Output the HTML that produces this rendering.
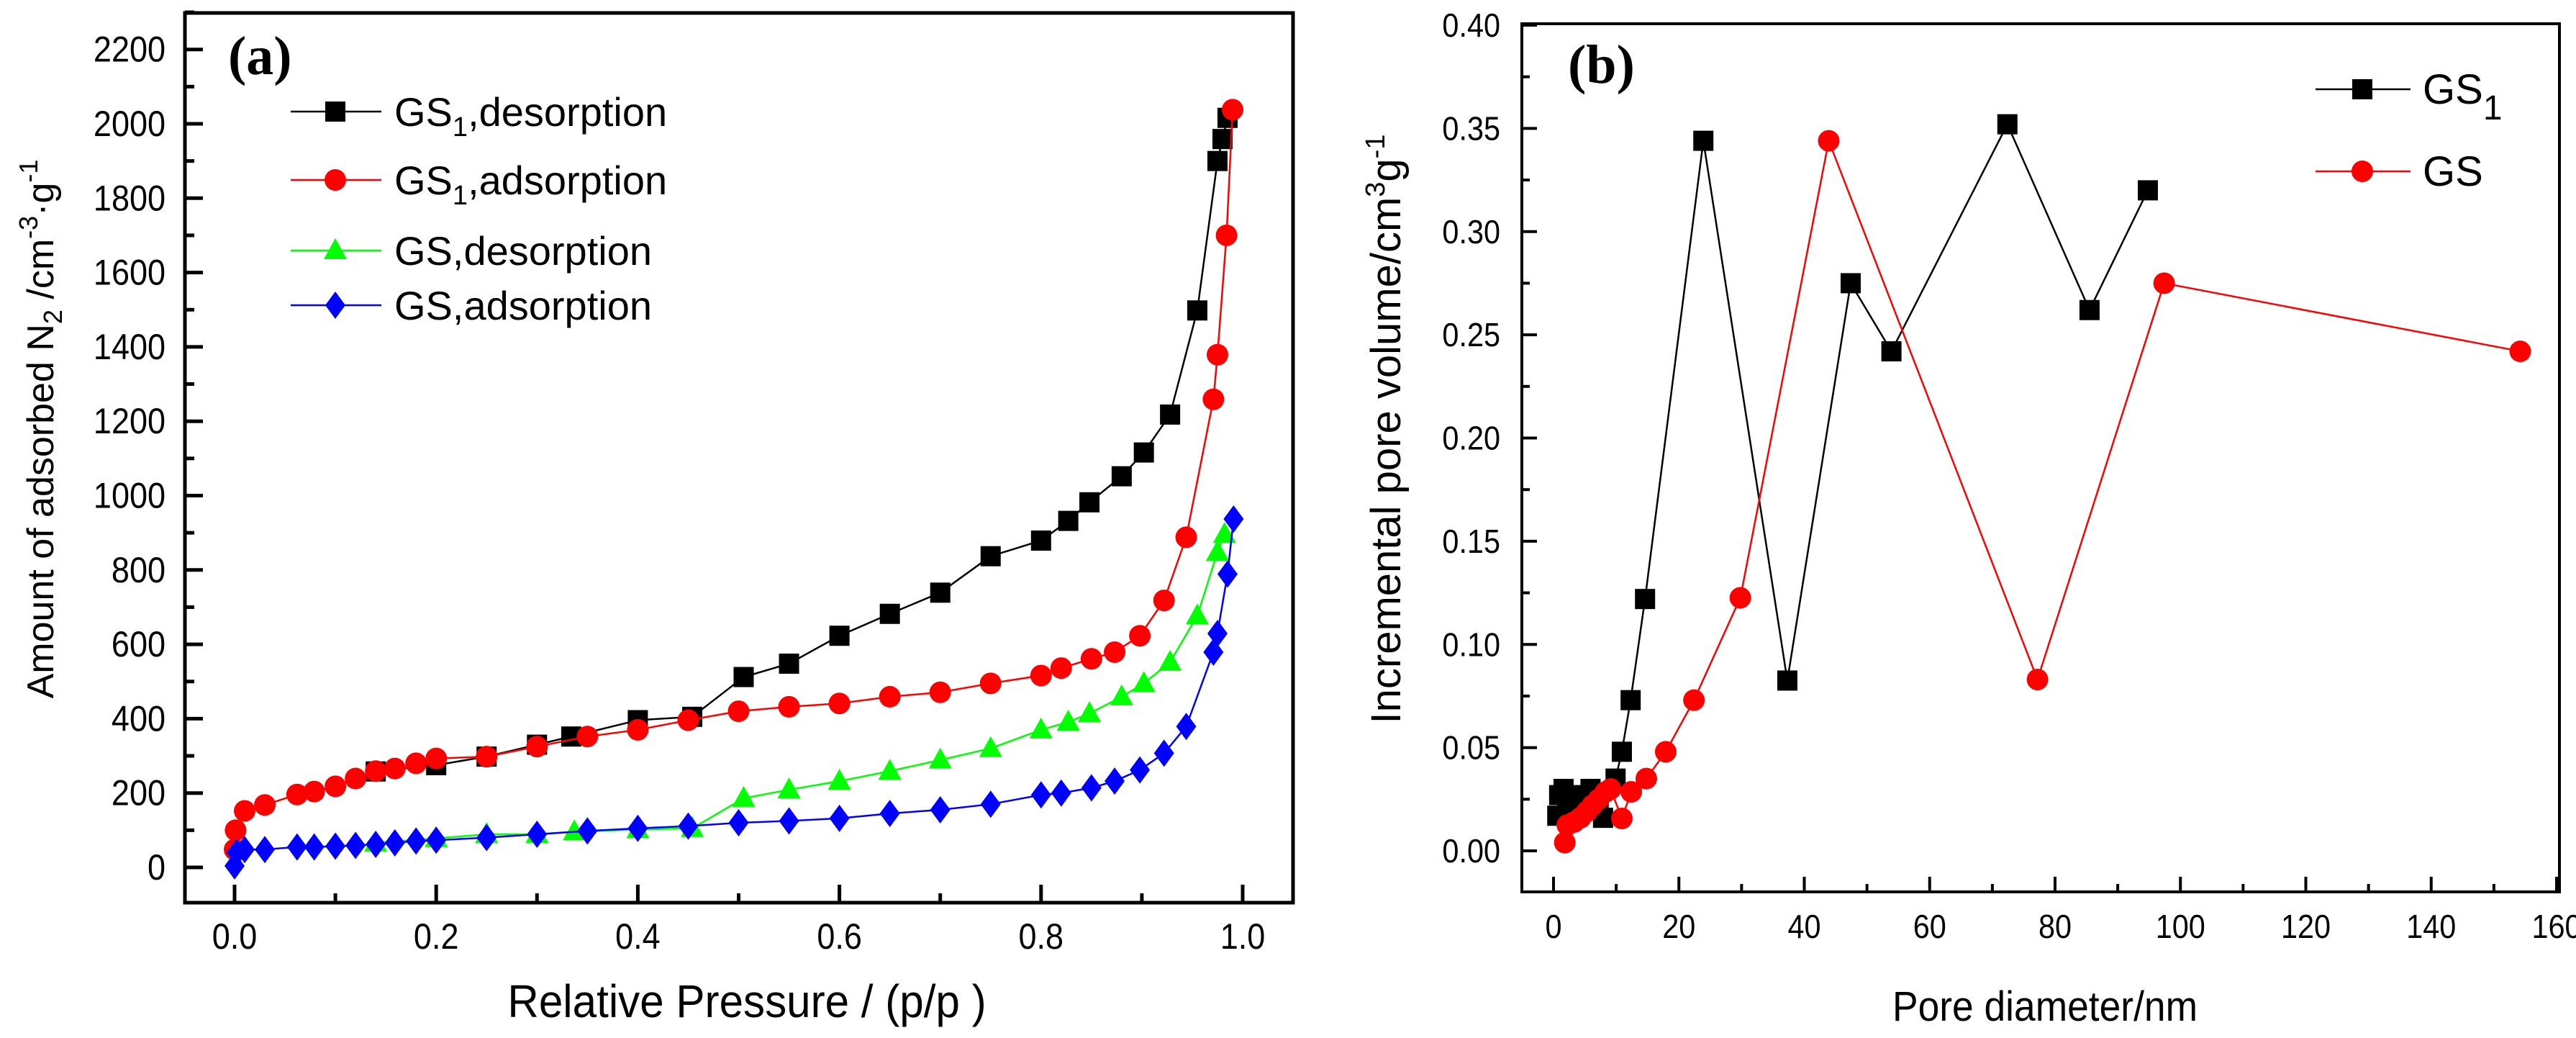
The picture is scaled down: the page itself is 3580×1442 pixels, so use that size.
<!DOCTYPE html>
<html><head><meta charset="utf-8"><style>
html,body{margin:0;padding:0;background:#fff}
svg{display:block}
text{font-family:"Liberation Sans Narrow","Liberation Sans",sans-serif;fill:#000}
</style></head><body>
<svg id="chart" xmlns="http://www.w3.org/2000/svg" width="3580" height="1442" viewBox="0 0 3580 1442">
<g id="pa"></g>
<g id="pb"></g>
</svg>
<script>
// Panel a data
const aXTicks = [0.0, 0.2, 0.4, 0.6, 0.8, 1.0];
const aXTickLabels = ["0.0","0.2","0.4","0.6","0.8","1.0"];
const aYTicks = [0,200,400,600,800,1000,1200,1400,1600,1800,2000,2200];
const gs1DesP = [0.14,0.2,0.25,0.3,0.334,0.4,0.454,0.505,0.55,0.6,0.65,0.7,0.75,0.8,0.827,0.848,0.88,0.902,0.928,0.955,0.975,0.98,0.985];
const gs1DesV = [258,275,298,330,352,396,405,512,548,623,682,739,837,879,932,982,1052,1116,1218,1498,1900,1959,2016];
const gs1AdsP = [0,0.001,0.01,0.03,0.062,0.079,0.1,0.12,0.14,0.159,0.18,0.2,0.25,0.3,0.35,0.4,0.45,0.5,0.55,0.6,0.65,0.7,0.75,0.8,0.82,0.85,0.873,0.898,0.922,0.944,0.971,0.975,0.984,0.99];
const gs1AdsV = [48,100,152,168,196,204,218,239,259,266,280,293,298,325,352,370,396,420,432,441,459,471,495,516,536,561,579,623,718,888,1259,1379,1700,2038];
const gsDesP = [0.14,0.2,0.25,0.3,0.337,0.4,0.454,0.505,0.55,0.6,0.65,0.7,0.75,0.8,0.827,0.848,0.88,0.902,0.928,0.955,0.975,0.982];
const gsDesV = [66,78,89,89,96,102,105,186,209,232,259,289,320,370,391,414,459,495,552,677,848,896];
const gsAdsP = [0,0.002,0.01,0.03,0.062,0.079,0.1,0.12,0.14,0.159,0.18,0.2,0.25,0.3,0.35,0.4,0.45,0.5,0.55,0.6,0.65,0.7,0.75,0.8,0.82,0.85,0.873,0.898,0.922,0.944,0.971,0.975,0.985,0.991];
const gsAdsV = [4,40,48,48,55,55,57,59,62,66,71,73,80,89,98,105,111,120,125,132,145,155,170,195,200,214,232,262,307,379,579,629,789,937];
// Panel b data
const bXTicks = [0,20,40,60,80,100,120,140,160];
const bYTicks = [0,0.05,0.10,0.15,0.20,0.25,0.30,0.35,0.40];
const bYTickLabels = ["0.00","0.05","0.10","0.15","0.20","0.25","0.30","0.35","0.40"];
const gs1D = [0.6,0.9,1.6,2.2,3.6,4.6,5.9,7.2,7.9,9.9,10.9,12.3,14.6,23.9,37.3,47.4,53.9,72.4,85.5,94.8];
const gs1Vol = [0.017,0.027,0.03,0.022,0.027,0.022,0.03,0.025,0.016,0.035,0.048,0.073,0.122,0.344,0.0825,0.275,0.242,0.352,0.262,0.32];
const gsD = [1.8,2.2,3.3,4.3,5.3,6.2,7.2,8.3,9.1,10.9,12.4,14.8,17.9,22.4,29.8,43.9,77.2,97.4,154.2];
const gsVol = [0.004,0.0125,0.014,0.016,0.019,0.022,0.025,0.0285,0.030,0.0157,0.0286,0.035,0.048,0.073,0.1226,0.344,0.083,0.275,0.242];

const NS="http://www.w3.org/2000/svg";
function mk(parent,tag,attrs,txt){const e=document.createElementNS(NS,tag);for(const k in attrs)e.setAttribute(k,attrs[k]);if(txt!==undefined)e.textContent=txt;parent.appendChild(e);return e;}
function ntext(parent,x,y,anchor,size,str,sx){
  return mk(parent,"text",{transform:`translate(${x},${y}) scale(${sx||0.9},1)`,x:0,y:0,"text-anchor":anchor,"font-size":size},str);
}

const ax=p=>326+1401*p, ay=v=>1205-0.5165*v;
const bx=d=>2159+8.7125*d, by=v=>1182-2867.5*v;

function marker(g,type,x,y,color){
  let m;
  if(type==="square") m=mk(g,"rect",{x:x-14,y:y-14,width:28,height:28,fill:color});
  else if(type==="circle") m=mk(g,"circle",{cx:x,cy:y,r:15,fill:color});
  else if(type==="triangle") m=mk(g,"polygon",{points:`${x},${y-17} ${x+16},${y+12} ${x-16},${y+12}`,fill:color});
  else m=mk(g,"polygon",{points:`${x},${y-19} ${x+14},${y} ${x},${y+19} ${x-14},${y}`,fill:color});
  
  
}
function series(g,name,xs,ys,fx,fy,color,type){
  const s=mk(g,"g",{});
  
  
  const pts=xs.map((x,i)=>fx(x)+","+fy(ys[i])).join(" ");
  const l=mk(s,"polyline",{points:pts,fill:"none",stroke:color,"stroke-width":2.5});
  
  
  xs.forEach((x,i)=>marker(s,type,fx(x),fy(ys[i]),color));
}

// ---- Panel a ----
const pa=document.getElementById("pa");
series(pa,"gs1-desorption-series",gs1DesP,gs1DesV,ax,ay,"#000","square");
series(pa,"gs-desorption-series",gsDesP,gsDesV,ax,ay,"#00ff00","triangle");
series(pa,"gs1-adsorption-series",gs1AdsP,gs1AdsV,ax,ay,"#ff0000","circle");
series(pa,"gs-adsorption-series",gsAdsP,gsAdsV,ax,ay,"#0000ff","diamond");
const fa=mk(pa,"rect",{x:257,y:18,width:1540,height:1236,fill:"none",stroke:"#000","stroke-width":5});


aYTicks.forEach(v=>{
  mk(pa,"line",{x1:257,x2:282,y1:ay(v),y2:ay(v),stroke:"#000","stroke-width":5});
  mk(pa,"line",{x1:257,x2:270,y1:ay(v+100),y2:ay(v+100),stroke:"#000","stroke-width":5});
  const t=ntext(pa,230,ay(v)+17,"end",50,String(v));
  
  
});
aXTicks.forEach((p,i)=>{
  mk(pa,"line",{x1:ax(p),x2:ax(p),y1:1254,y2:1229,stroke:"#000","stroke-width":5});
  if(p<1) mk(pa,"line",{x1:ax(p+0.1),x2:ax(p+0.1),y1:1254,y2:1241,stroke:"#000","stroke-width":5});
  const t=ntext(pa,ax(p),1318,"middle",50,aXTickLabels[i]);
  
  
});
let t=ntext(pa,1038,1413,"middle",64,"Relative Pressure / (p/p )",0.94);

t=mk(pa,"text",{transform:"translate(74,596) rotate(-90)","text-anchor":"middle","font-size":52,style:"font-family:'Liberation Sans',sans-serif"});

t.innerHTML='Amount of adsorbed N<tspan font-size="36" dy="12">2</tspan><tspan dy="-12"> /cm</tspan><tspan font-size="36" dy="-22">-3</tspan><tspan dy="22">·g</tspan><tspan font-size="36" dy="-22">-1</tspan>';
t=mk(pa,"text",{x:317,y:103,"font-size":76,"font-weight":"bold",style:"font-family:'Liberation Serif',serif"},"(a)");

const legA=[["GS","1",",desorption","#000","square",155],["GS","1",",adsorption","#ff0000","circle",250],["GS","",",desorption","#00ff00","triangle",348],["GS","",",adsorption","#0000ff","diamond",424]];
const lga=mk(pa,"g",{});

legA.forEach(r=>{
  const e=mk(lga,"g",{});
  
  mk(e,"line",{x1:404,x2:530,y1:r[5],y2:r[5],stroke:r[3],"stroke-width":2.5});
  marker(e,r[4],466,r[5],r[3]);
  const tx=mk(e,"text",{x:548,y:r[5]+20,"font-size":56});
  tx.innerHTML=r[0]+(r[1]?'<tspan font-size="38" dy="14">'+r[1]+'</tspan><tspan dy="-14">'+r[2]+'</tspan>':r[2]);
});

// ---- Panel b ----
const pb=document.getElementById("pb");
series(pb,"gs1-series",gs1D,gs1Vol,bx,by,"#000","square");
series(pb,"gs-series",gsD,gsVol,bx,by,"#ff0000","circle");
const fb=mk(pb,"rect",{x:2115,y:33,width:1442,height:1206,fill:"none",stroke:"#000","stroke-width":4});

bYTicks.forEach((v,i)=>{
  mk(pb,"line",{x1:2115,x2:2136,y1:by(v),y2:by(v),stroke:"#000","stroke-width":4});
  if(i<bYTicks.length-1) mk(pb,"line",{x1:2115,x2:2126,y1:by(v+0.025),y2:by(v+0.025),stroke:"#000","stroke-width":4});
  const t=ntext(pb,2085,by(v)+16,"end",46,bYTickLabels[i]);
  
});
bXTicks.forEach(d=>{
  mk(pb,"line",{x1:bx(d),x2:bx(d),y1:1239,y2:1218,stroke:"#000","stroke-width":4});
  if(d<160) mk(pb,"line",{x1:bx(d+10),x2:bx(d+10),y1:1239,y2:1228,stroke:"#000","stroke-width":4});
  const t=ntext(pb,bx(d),1303,"middle",46,String(d));
  
});
t=ntext(pb,2842,1418,"middle",58,"Pore diameter/nm",0.92);

t=mk(pb,"text",{transform:"translate(1946,596) rotate(-90)","text-anchor":"middle","font-size":58,style:"font-family:'Liberation Sans',sans-serif"});

t.innerHTML='Incremental pore volume/cm<tspan font-size="38" dy="-22">3</tspan><tspan dy="22">g</tspan><tspan font-size="38" dy="-22">-1</tspan>';
t=mk(pb,"text",{x:2179,y:115,"font-size":76,"font-weight":"bold",style:"font-family:'Liberation Serif',serif"},"(b)");

const legB=[["GS","1","#000","square",124],["GS","","#ff0000","circle",238]];
const lgb=mk(pb,"g",{});

legB.forEach(r=>{
  const e=mk(lgb,"g",{});
  
  mk(e,"line",{x1:3218,x2:3350,y1:r[4],y2:r[4],stroke:r[2],"stroke-width":2.5});
  marker(e,r[3],3283,r[4],r[2]);
  const tx=mk(e,"text",{x:3367,y:r[4]+20,"font-size":58});
  tx.innerHTML=r[0]+(r[1]?'<tspan font-size="48" dy="22">'+r[1]+'</tspan>':'');
});
</script>
</body></html>
